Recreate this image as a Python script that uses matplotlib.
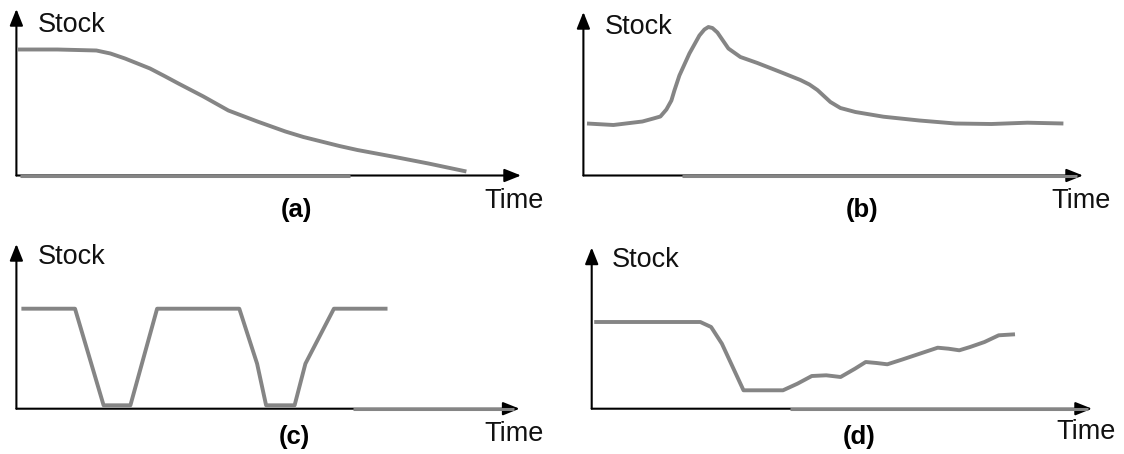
import matplotlib
matplotlib.use('Agg')
import matplotlib.pyplot as plt
import numpy as np

plt.rcParams['font.family'] = ['Liberation Sans', 'DejaVu Sans']

# ---- data (time, stock), one unit ~ one pixel ----
a_time = [1.5, 41, 80, 94, 108.6, 133.6, 148, 162, 187, 212, 226.5, 241, 269,
          287, 305, 323, 341, 376, 412, 450]
a_stock = [126, 126, 125, 122, 117, 107, 99.5, 92, 79, 65, 59.5, 54, 44,
           38.5, 34, 29.5, 25.5, 19, 12, 4]

b_time = [3.6, 30, 59, 70, 77, 83, 88, 91, 96, 106, 116, 121, 125, 129, 134,
          145, 157, 174, 197, 217, 226, 234, 247, 257, 272, 300, 336, 372,
          408, 444, 480]
b_stock = [52, 50.5, 54, 57, 59, 66, 75, 85, 100, 122, 140, 146, 148.5, 147.5,
           143, 127, 118.5, 112.5, 103.5, 95.5, 91, 85.5, 73.5, 67.5, 63.5,
           58.8, 55, 52, 51.5, 52.8, 52]

c_time = [5, 58.6, 87.2, 114, 140.7, 222.9, 240.7, 249.7, 278.2, 289, 317.5, 371.1]
c_stock = [100, 100, 3.4, 3.4, 100, 100, 45, 3.4, 3.4, 45, 100, 100]

d_time = [2.5, 108.6, 119.4, 130.2, 141, 151.8, 162.5, 191.3, 205.7, 220.1,
          234.5, 248.9, 263.3, 274, 284.9, 295.6, 310, 328, 346, 356.8, 367.6,
          378.4, 392.8, 407, 423.3]
d_stock = [86.7, 86.7, 81.7, 65, 41.7, 18.4, 18.4, 18.4, 25, 32.7, 33.4, 31.7,
           40, 46.7, 45.7, 44.4, 49, 55, 61, 60, 58.4, 61.7, 66.7, 73.4, 74.4]

labels = ['(a)', '(b)', '(c)', '(d)']

W, H = 1124, 454
fig = plt.figure(figsize=(W / 100, H / 100), dpi=100)

# panel geometry in pixels: origin x, origin y, arrow tip x, arrow tip y
panels = [
    (16.4, 175.5, 521, 9),
    (583.4, 175.5, 1083, 12),
    (16.4, 408.7, 519.6, 244),
    (591.7, 408.7, 1092, 247.5),
]
series = [(a_time, a_stock), (b_time, b_stock), (c_time, c_stock), (d_time, d_stock)]
grey_axis = [(3.6, 333.6), (99, 494), (336.6, 498), (198.6, 496)]
stock_pos = [(21.8, 150.5), (21.6, 149), (21.8, 151.7), (20.3, 148.4)]
time_pos = [(467.6, -26), (467.6, -26), (467.6, -25.6), (464.7, -23.3)]
label_pos = [(279.6, -34.5), (278.6, -34.5), (278, -28.3), (267, -28.3)]

line_col = '#858585'

for i, (ox, oy, tx, ty) in enumerate(panels):
    w = tx - ox
    h = oy - ty
    ax = fig.add_axes([ox / W, (H - oy) / H, w / W, h / H])
    ax.set_xlim(0, w)
    ax.set_ylim(0, h)
    ax.axis('off')

    # axes arrows
    arrow = dict(arrowstyle='-|>,head_length=0.5,head_width=0.2',
                 color='black', lw=1.5, mutation_scale=20,
                 shrinkA=0, shrinkB=0)
    ax.annotate('', xy=(w, 0), xytext=(0, 0), arrowprops=arrow,
                annotation_clip=False)
    ax.annotate('', xy=(0, h), xytext=(0, 0), arrowprops=arrow,
                annotation_clip=False)
    # grey part of the time axis, drawn over the black line
    g0, g1 = grey_axis[i]
    ax.plot([g0, g1], [0, 0], color=line_col, lw=2.2, clip_on=False,
            solid_capstyle='butt', zorder=5)

    t, s = series[i]
    ax.plot(t, s, color=line_col, lw=2.8, clip_on=False,
            solid_joinstyle='round', solid_capstyle='butt', zorder=6)

    ax.text(stock_pos[i][0], stock_pos[i][1], 'Stock', fontsize=19.5,
            ha='left', va='center', color='#111111')
    ax.text(time_pos[i][0], time_pos[i][1], 'Time', fontsize=19.5,
            ha='left', va='center', color='#111111')
    ax.text(label_pos[i][0], label_pos[i][1], labels[i], fontsize=18.5,
            fontweight='bold', ha='center', va='center', color='black')

fig.savefig('out.png', dpi=100)
